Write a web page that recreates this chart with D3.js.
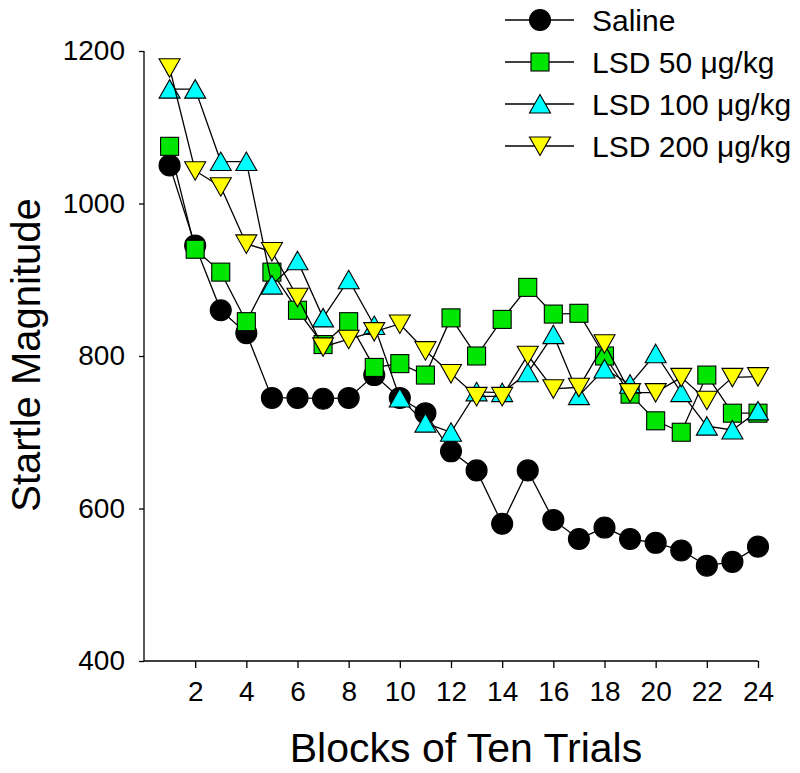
<!DOCTYPE html>
<html><head><meta charset="utf-8">
<script src="https://cdn.jsdelivr.net/npm/d3@7"></script>
<style>body{margin:0;background:#fff}text{font-family:Arial,"Liberation Sans",sans-serif}</style>
</head><body><svg id="c" width="800" height="773"></svg>
<script>
const blocks = d3.range(1, 25);
const saline = [1050,945,860,830,745,745,744,745,775,745,725,675,650,580,650,585,560,575,560,555,545,525,530,550];
const lsd50  = [1075,940,910,845,910,860,815,845,785,790,775,850,800,848,890,855,856,800,750,715,700,775,725,725];
const lsd100 = [1150,1150,1055,1055,893,925,850,900,840,745,712,700,753,752,778,828,748,783,763,803,752,708,703,728];
const lsd200 = [1178,1043,1022,947,937,877,812,822,832,842,807,777,747,747,801,757,759,816,752,752,772,742,772,773];
const xTicks = [2,4,6,8,10,12,14,16,18,20,22,24];
const yTicks = [400,600,800,1000,1200];
const seriesNames = ["Saline","LSD 50 \u03BCg/kg","LSD 100 \u03BCg/kg","LSD 200 \u03BCg/kg"];
const seriesColors = ["#000000","#00e600","#00ffff","#ffff00"];
const seriesShapes = ["circle","square","up","down"];
const seriesData = [saline, lsd50, lsd100, lsd200];

const svg = d3.select("#c");
const x = d3.scaleLinear().domain([0,24]).range([144,758]);
const y = d3.scaleLinear().domain([400,1200]).range([661,51]);

const xAxis = svg.append("g").attr("transform","translate(0,661)")
  .call(d3.axisBottom(x).tickValues(xTicks).tickFormat(d3.format("d")).tickSize(7).tickPadding(13));
const yAxis = svg.append("g").attr("transform","translate(144,0)")
  .call(d3.axisLeft(y).tickValues(yTicks).tickFormat(d3.format("d")).tickSize(5).tickPadding(14));
[xAxis,yAxis].forEach(a=>{
  a.selectAll("path").attr("stroke","#000").attr("stroke-width",1.3);
  a.selectAll("line").attr("stroke","#000").attr("stroke-width",1.3);
  a.selectAll("text").attr("font-size",28).attr("fill","#000").style("font-family","Arial, 'Liberation Sans', sans-serif");
});
xAxis.select("path").attr("d", `M${x(0)},0H${x(24)}`);
yAxis.select("path").attr("d", `M0,${y(1200)}V${y(400)}`);

function shape(sel, kind, fill){
  if(kind==="circle") sel.append("circle").attr("r",10.5);
  else if(kind==="square") sel.append("rect").attr("x",-9).attr("y",-9).attr("width",18).attr("height",18);
  else if(kind==="up") sel.append("path").attr("d","M0,-9.5L10.5,9L-10.5,9Z");
  else sel.append("path").attr("d","M0,9.5L10.5,-9L-10.5,-9Z");
  sel.selectAll("*").attr("fill",fill).attr("stroke","#000").attr("stroke-width",1.1);
}

const line = d3.line().x((d,i)=>x(blocks[i])).y(d=>y(d));
seriesData.forEach((data,k)=>{
  const g = svg.append("g");
  g.append("path").attr("d",line(data)).attr("fill","none").attr("stroke","#000").attr("stroke-width",1.3);
  data.forEach((v,i)=>{
    const m = g.append("g").attr("transform",`translate(${x(blocks[i])},${y(v)})`);
    shape(m, seriesShapes[k], seriesColors[k]);
  });
});

const legY = [20,62,104,146];
seriesNames.forEach((n,k)=>{
  const g = svg.append("g").attr("transform",`translate(0,${legY[k]})`);
  g.append("line").attr("x1",505).attr("x2",574).attr("y1",0).attr("y2",0).attr("stroke","#000").attr("stroke-width",1.3);
  const m = g.append("g").attr("transform","translate(540,0)");
  shape(m, seriesShapes[k], seriesColors[k]);
  g.append("text").attr("x",592).attr("y",0).attr("dy","0.35em").attr("font-size",30).text(n);
});

svg.append("text").attr("x",466).attr("y",762).attr("text-anchor","middle").attr("font-size",41).text("Blocks of Ten Trials");
svg.append("text").attr("transform","translate(40,355) rotate(-90)").attr("text-anchor","middle").attr("font-size",40).text("Startle Magnitude");
</script></body></html>
